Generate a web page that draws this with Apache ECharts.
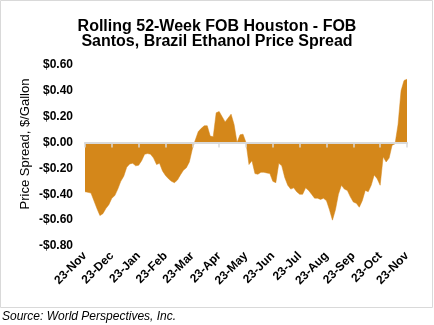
<!DOCTYPE html>
<html>
<head>
<meta charset="utf-8">
<script src="https://cdn.jsdelivr.net/npm/echarts@6/dist/echarts.min.js"></script>
<style>html,body{margin:0;padding:0;background:#fff;}#chart{width:434px;height:325px;}</style>
</head>
<body>
<div id="chart"></div>
<script>
// Month tick labels (23rd of each month, Nov 2022 - Nov 2023)
var monthLabels = ['23-Nov','23-Dec','23-Jan','23-Feb','23-Mar','23-Apr','23-May','23-Jun','23-Jul','23-Aug','23-Sep','23-Oct','23-Nov'];
var pointsPerMonth = 9;
// Price spread, $/gallon
var spread = [
 -0.38,-0.385,-0.39,-0.45,-0.51,-0.565,-0.55,-0.51,-0.48,
 -0.43,-0.41,-0.36,-0.30,-0.26,-0.19,-0.165,-0.16,-0.18,
 -0.175,-0.14,-0.09,-0.085,-0.09,-0.12,-0.17,-0.16,-0.22,
 -0.255,-0.28,-0.30,-0.31,-0.29,-0.25,-0.215,-0.195,-0.15,
 -0.05,0.02,0.085,0.11,0.13,0.13,0.05,0.045,0.23,
 0.24,0.20,0.16,0.19,0.22,0.14,0.0,0.06,0.065,
 0.0,-0.17,-0.14,-0.24,-0.245,-0.23,-0.23,-0.235,-0.24,
 -0.30,-0.31,-0.16,-0.18,-0.27,-0.33,-0.36,-0.35,-0.38,
 -0.40,-0.40,-0.35,-0.37,-0.40,-0.43,-0.43,-0.44,-0.43,
 -0.45,-0.52,-0.60,-0.52,-0.40,-0.33,-0.36,-0.37,-0.42,
 -0.46,-0.47,-0.50,-0.45,-0.37,-0.38,-0.33,-0.25,-0.28,
 -0.33,-0.11,-0.15,-0.12,-0.02,-0.01,0.14,0.40,0.48,
 0.49
];
var yMin = -0.8, yMax = 0.6, yStep = 0.2;

var categories = spread.map(function(_, i){
  return (i % pointsPerMonth === 0) ? monthLabels[i / pointsPerMonth] : '';
});

var FONT = '"Liberation Sans", Arial, sans-serif';
var chart = echarts.init(document.getElementById('chart'), null, {renderer:'canvas'});
chart.setOption({
  animation: false,
  title: {
    text: 'Rolling 52-Week FOB Houston - FOB\nSantos, Brazil Ethanol Price Spread',
    left: 'center', top: 14,
    textStyle: {fontFamily: FONT, fontSize: 16, fontWeight: 'bold', color: '#000', lineHeight: 15}
  },
  grid: {left: 85, right: 27, top: 65, bottom: 79, containLabel: false},
  xAxis: [{
    type: 'category', data: categories, boundaryGap: false,
    axisLine: {show: false, onZero: false},
    axisTick: {show: false},
    axisLabel: {
      interval: pointsPerMonth - 1, rotate: 45, margin: 8,
      fontFamily: FONT, fontSize: 12, fontWeight: 'bold', color: '#000'
    },
    splitLine: {show: false}
  },{
    type: 'category', data: categories, boundaryGap: false, position: 'bottom', z: 5,
    axisLine: {show: true, onZero: true, lineStyle: {color: '#d9d9d9', width: 2}},
    axisTick: {show: true, interval: pointsPerMonth - 1, length: 5, lineStyle: {color: '#d9d9d9', width: 1.5}},
    axisLabel: {show: false},
    splitLine: {show: false}
  }],
  yAxis: {
    type: 'value', min: yMin, max: yMax, interval: yStep,
    axisLine: {show: false}, axisTick: {show: false}, splitLine: {show: false},
    axisLabel: {
      margin: 12, fontFamily: FONT, fontSize: 12, fontWeight: 'bold', color: '#000',
      formatter: function(v){ var s = Math.abs(v).toFixed(2); return (v < -1e-9 ? '-$' : '$') + s; }
    }
  },
  series: [{
    type: 'line', data: spread, xAxisIndex: 0, symbol: 'none', smooth: false,
    lineStyle: {width: 0.5, color: '#D4871A'},
    areaStyle: {color: '#D4871A', opacity: 1},
    z: 2
  }],
  graphic: [
    {type: 'rect', shape: {x: 0.5, y: 0.5, width: 432, height: 307},
     style: {fill: 'none', stroke: '#d9d9d9', lineWidth: 1}, silent: true},
    {type: 'text', x: 25, y: 144, rotation: Math.PI / 2,
     style: {text: 'Price Spread, $/Gallon', font: '13px ' + FONT, fill: '#000', align: 'center', verticalAlign: 'middle'}},
    {type: 'text', x: 2, y: 317,
     style: {text: 'Source: World Perspectives, Inc.', font: 'italic 12px ' + FONT, fill: '#000', align: 'left', verticalAlign: 'middle'}}
  ]
});
</script>
</body>
</html>
